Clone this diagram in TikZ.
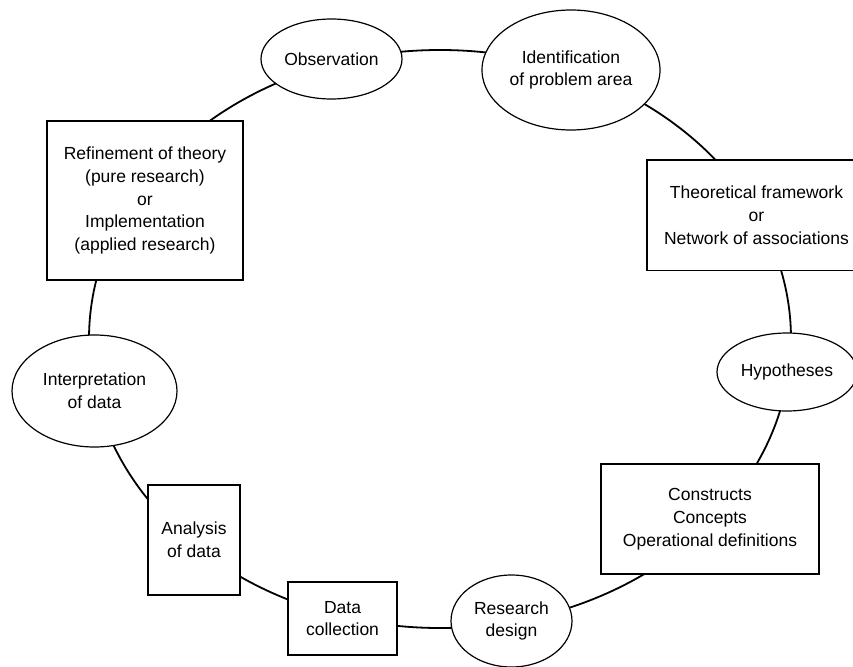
\documentclass[tikz,border=0pt]{standalone}
\usepackage{fontspec}
\setmainfont{Liberation Sans}
\usetikzlibrary{shapes.geometric}
\begin{document}
\begin{tikzpicture}[x=1pt,y=-1pt,
  lbl/.style={font=\fontsize{17.5}{22.7}\selectfont, align=center,
              inner sep=0pt, draw, line width=1.2pt, fill=white},
  oval/.style={lbl, ellipse},
  boxnode/.style={lbl, rectangle},
  ring/.style={draw, ellipse, line width=1.8pt, inner sep=0pt}]
\useasboundingbox (0,0) rectangle (853,666);
\clip (0,0) rectangle (853,666);

% the research cycle that links all stages
\node[ring, minimum width=702pt, minimum height=578pt] (cycle) at (440,339) {};

% stages, placed on the cycle
\node[oval, minimum width=141pt, minimum height=80pt] (obs) at (331.5,59) {Observation};
\node[oval, minimum width=178pt, minimum height=120pt] (ident) at (571,70) {Identification\\of problem area};
\node[boxnode, minimum width=219pt, minimum height=110.6pt] (theory) at (756.5,215.3) {Theoretical framework\\or\\Network of associations};
\node[oval, minimum width=140pt, minimum height=78pt] (hyp) at (787,372) {Hypotheses};
\node[boxnode, minimum width=218pt, minimum height=110pt] (constr) at (710,519) {Constructs\\Concepts\\Operational definitions};
\node[oval, minimum width=121pt, minimum height=92pt] (design) at (511.5,621) {Research\\design};
\node[boxnode, minimum width=109pt, minimum height=73pt] (collect) at (342.5,618.5) {Data\\collection};
\node[boxnode, minimum width=92pt, minimum height=110pt] (analysis) at (194,540) {Analysis\\of data};
\node[oval, minimum width=165pt, minimum height=112pt] (interp) at (94.5,391) {Interpretation\\of data};
\node[boxnode, minimum width=196pt, minimum height=159pt] (refine) at (145,200.5) {Refinement of theory\\(pure research)\\or\\Implementation\\(applied research)};
\end{tikzpicture}
\end{document}
